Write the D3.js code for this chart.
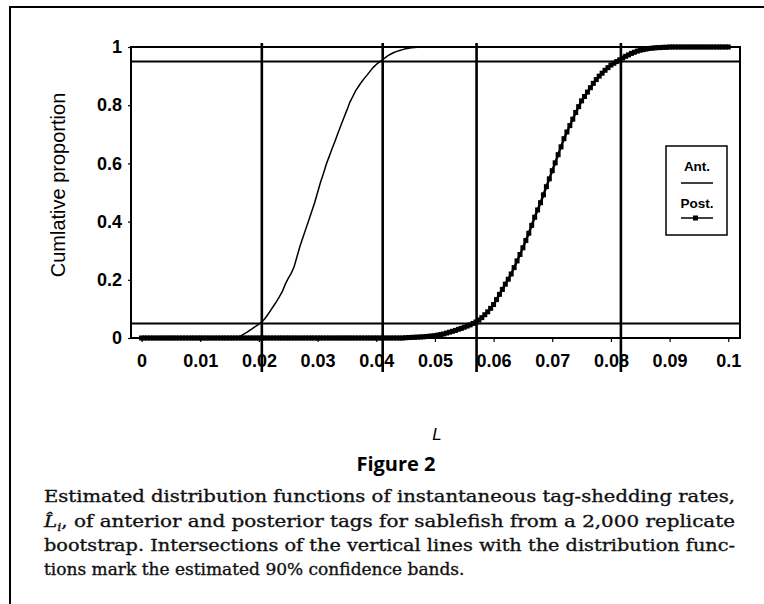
<!DOCTYPE html>
<html><head><meta charset="utf-8">
<script src="https://cdn.jsdelivr.net/npm/d3@7"></script>
<style>body{margin:0;background:#fff}svg{display:block}</style>
</head><body><svg id="c" width="764" height="604"></svg>
<script>
// L grid (categories) at which the bootstrap CDFs were tabulated
const lValues = [
0,0.0005,0.001,0.0015,0.002,0.0025,0.003,0.0035,0.004,0.0045,
0.005,0.0055,0.006,0.0065,0.007,0.0075,0.008,0.0085,0.009,0.0095,
0.01,0.0105,0.011,0.0115,0.012,0.0125,0.013,0.0135,0.014,0.0145,
0.015,0.0155,0.016,0.0165,0.017,0.0175,0.018,0.0185,0.019,0.0195,
0.02,0.0205,0.021,0.0215,0.022,0.0225,0.023,0.0235,0.024,0.0245,
0.025,0.0255,0.026,0.0265,0.027,0.0275,0.028,0.0285,0.029,0.0295,
0.03,0.0305,0.031,0.0315,0.032,0.0325,0.033,0.0335,0.034,0.0345,
0.035,0.0355,0.036,0.0365,0.037,0.0375,0.038,0.0385,0.039,0.0395,
0.04,0.0405,0.041,0.0415,0.042,0.0425,0.043,0.0435,0.044,0.0445,
0.045,0.0455,0.046,0.0465,0.047,0.0475,0.048,0.0485,0.049,0.0495,
0.05,0.0505,0.051,0.0515,0.052,0.0525,0.053,0.0535,0.054,0.0545,
0.055,0.0555,0.056,0.0565,0.057,0.0575,0.058,0.0585,0.059,0.0595,
0.06,0.0605,0.061,0.0615,0.062,0.0625,0.063,0.0635,0.064,0.0645,
0.065,0.0655,0.066,0.0665,0.067,0.0675,0.068,0.0685,0.069,0.0695,
0.07,0.0705,0.071,0.0715,0.072,0.0725,0.073,0.0735,0.074,0.0745,
0.075,0.0755,0.076,0.0765,0.077,0.0775,0.078,0.0785,0.079,0.0795,
0.08,0.0805,0.081,0.0815,0.082,0.0825,0.083,0.0835,0.084,0.0845,
0.085,0.0855,0.086,0.0865,0.087,0.0875,0.088,0.0885,0.089,0.0895,
0.09,0.0905,0.091,0.0915,0.092,0.0925,0.093,0.0935,0.094,0.0945,
0.095,0.0955,0.096,0.0965,0.097,0.0975,0.098,0.0985,0.099,0.0995,
0.1];

// Anterior tags: cumulative proportion
const antValues = [
0,0,0,0,0,0,0,0,0,0,
0,0,0,0,0,0,0,0,0,0,
0,0,0,0,0,0,0,0,0,0,
0,0,0,0.003,0.008,0.014,0.02,0.027,0.034,0.041,
0.048,0.055,0.066,0.08,0.095,0.11,0.125,0.142,0.16,0.185,
0.205,0.222,0.245,0.28,0.315,0.345,0.375,0.405,0.435,0.465,
0.5,0.535,0.565,0.598,0.625,0.652,0.678,0.705,0.732,0.758,
0.783,0.81,0.83,0.85,0.865,0.88,0.893,0.905,0.918,0.93,
0.94,0.948,0.955,0.963,0.97,0.976,0.981,0.985,0.988,0.991,
0.994,0.996,0.997,0.998,0.999,1,1,1,1,1,
1,1,1,1,1,1,1,1,1,1,
1,1,1,1,1,1,1,1,1,1,
1,1,1,1,1,1,1,1,1,1,
1,1,1,1,1,1,1,1,1,1,
1,1,1,1,1,1,1,1,1,1,
1,1,1,1,1,1,1,1,1,1,
1,1,1,1,1,1,1,1,1,1,
1,1,1,1,1,1,1,1,1,1,
1,1,1,1,1,1,1,1,1,1,
1,1,1,1,1,1,1,1,1,1,
1];

// Posterior tags: cumulative proportion
const postValues = [
0,0,0,0,0,0,0,0,0,0,
0,0,0,0,0,0,0,0,0,0,
0,0,0,0,0,0,0,0,0,0,
0,0,0,0,0,0,0,0,0,0,
0,0,0,0,0,0,0,0,0,0,
0,0,0,0,0,0,0,0,0,0,
0,0,0,0,0,0,0,0,0,0,
0,0,0,0,0,0,0,0,0,0,
0,0,0,0,0,0,0,0,0,0,
0.001,0.0015,0.002,0.0025,0.003,0.0035,0.004,0.005,0.006,0.007,
0.008,0.01,0.012,0.014,0.017,0.02,0.023,0.026,0.03,0.033,
0.037,0.041,0.045,0.05,0.055,0.062,0.07,0.08,0.09,0.102,
0.115,0.132,0.15,0.167,0.185,0.202,0.22,0.242,0.265,0.287,
0.31,0.335,0.36,0.387,0.415,0.44,0.465,0.492,0.52,0.547,
0.575,0.602,0.63,0.657,0.685,0.708,0.73,0.752,0.775,0.795,
0.815,0.83,0.845,0.86,0.875,0.888,0.9,0.91,0.92,0.929,
0.938,0.944,0.95,0.956,0.962,0.968,0.973,0.978,0.982,0.986,
0.989,0.991,0.993,0.995,0.996,0.997,0.998,0.998,0.999,0.999,
1,1,1,1,1,1,1,1,1,1,
1,1,1,1,1,1,1,1,1,1,
1];

const seriesNames = ["Ant.", "Post."];
const xTickValues = [0,0.01,0.02,0.03,0.04,0.05,0.06,0.07,0.08,0.09,0.1];
const xTickLabels = ["0","0.01","0.02","0.03","0.04","0.05","0.06","0.07","0.08","0.09","0.1"];
const yTickValues = [0,0.2,0.4,0.6,0.8,1];
const yTickLabels = ["0","0.2","0.4","0.6","0.8","1"];
const ciVertical = [0.0205, 0.0411, 0.0571, 0.0817];   // 90% band limits (Ant. low/high, Post. low/high)
const ciHorizontal = [0.05, 0.95];
const yTitle = "Cumlative proportion";
const xTitle = "L";
const figTitle = "Figure 2";
const captionLines = [
  "Estimated distribution functions of instantaneous tag-shedding rates,",
  ", of anterior and posterior tags for sablefish from a 2,000 replicate",
  "bootstrap. Intersections of the vertical lines with the distribution func-",
  "tions mark the estimated 90% confidence bands."
];

const svg = d3.select("#c");
const sans = "Liberation Sans, Arial, Helvetica, sans-serif";
const serif = "DejaVu Serif, serif";

// outer frame (open at right/bottom edge of the crop)
svg.append("rect").attr("x", 10).attr("y", 7).attr("width", 800).attr("height", 700)
  .attr("fill", "none").attr("stroke", "#000").attr("stroke-width", 2);

const L = 131, R = 740, T = 47, B = 338;
const x = d3.scaleLinear().domain([-0.0018, 0.102]).range([L, R]);
const y = d3.scaleLinear().domain([0, 1]).range([B, T]);

// axes
const xAxis = d3.axisBottom(x).tickValues(xTickValues)
  .tickFormat((d, i) => xTickLabels[i]).tickSize(4).tickSizeOuter(0);
const gx = svg.append("g").attr("transform", `translate(0,${B})`).call(xAxis);
gx.select(".domain").remove();
gx.selectAll("line").attr("stroke", "#000").attr("stroke-width", 1.2);
gx.selectAll("text").attr("font-family", sans).attr("font-size", 18).attr("font-weight", "bold")
  .attr("fill", "#000").attr("y", 16).attr("dy", "0.71em");

const yAxis = d3.axisLeft(y).tickValues(yTickValues)
  .tickFormat((d, i) => yTickLabels[i]).tickSize(3).tickSizeOuter(0);
const gy = svg.append("g").attr("transform", `translate(${L},0)`).call(yAxis);
gy.select(".domain").remove();
gy.selectAll("line").attr("stroke", "#000").attr("stroke-width", 1.2);
gy.selectAll("text").attr("font-family", sans).attr("font-size", 18).attr("font-weight", "bold")
  .attr("fill", "#000").attr("x", -9);

// plot frame
svg.append("rect").attr("x", L).attr("y", T).attr("width", R - L).attr("height", B - T)
  .attr("fill", "none").attr("stroke", "#000").attr("stroke-width", 2);

// confidence lines
svg.selectAll(".hci").data(ciHorizontal).join("line")
  .attr("x1", L).attr("x2", R).attr("y1", d => y(d)).attr("y2", d => y(d))
  .attr("stroke", "#000").attr("stroke-width", 2);
svg.selectAll(".vci").data(ciVertical).join("line")
  .attr("x1", d => x(d)).attr("x2", d => x(d)).attr("y1", T - 4).attr("y2", B + 34)
  .attr("stroke", "#000").attr("stroke-width", 2.6);

// series
const line = d3.line().x(d => x(d[0])).y(d => y(d[1]));
const antData = lValues.map((l, i) => [l, antValues[i]]);
const postData = lValues.map((l, i) => [l, postValues[i]]);

svg.append("path").datum(antData).attr("d", line).attr("fill", "none")
  .attr("stroke", "#000").attr("stroke-width", 1.5);
svg.append("path").datum(postData).attr("d", line).attr("fill", "none")
  .attr("stroke", "#000").attr("stroke-width", 2.5);
svg.append("g").selectAll("rect").data(postData).join("rect")
  .attr("x", d => x(d[0]) - 2.5).attr("y", d => y(d[1]) - 2.5)
  .attr("width", 5).attr("height", 5).attr("fill", "#000");

// axis titles
svg.append("text").attr("transform", "translate(65,185) rotate(-90)")
  .attr("text-anchor", "middle").attr("font-family", sans).attr("font-size", 20)
  .text(yTitle);
svg.append("text").attr("x", 437).attr("y", 440).attr("text-anchor", "middle")
  .attr("font-family", sans).attr("font-style", "italic").attr("font-size", 17).text(xTitle);

// legend
const lg = svg.append("g");
lg.append("rect").attr("x", 666).attr("y", 146).attr("width", 61).attr("height", 89)
  .attr("fill", "#fff").attr("stroke", "#000").attr("stroke-width", 1.5);
lg.append("text").attr("x", 697).attr("y", 171).attr("text-anchor", "middle")
  .attr("font-family", sans).attr("font-weight", "bold").attr("font-size", 13.5).text(seriesNames[0]);
lg.append("line").attr("x1", 681).attr("x2", 713).attr("y1", 183).attr("y2", 183)
  .attr("stroke", "#000").attr("stroke-width", 1.5);
lg.append("text").attr("x", 697).attr("y", 208).attr("text-anchor", "middle")
  .attr("font-family", sans).attr("font-weight", "bold").attr("font-size", 13.5).text(seriesNames[1]);
lg.append("line").attr("x1", 681).attr("x2", 713).attr("y1", 218).attr("y2", 218)
  .attr("stroke", "#000").attr("stroke-width", 1.5);
lg.append("rect").attr("x", 693).attr("y", 215.5).attr("width", 5).attr("height", 5).attr("fill", "#000");

// figure title and caption
svg.append("text").attr("x", 396).attr("y", 471).attr("text-anchor", "middle")
  .attr("font-family", "Open Sans, sans-serif").attr("font-weight", "bold").attr("font-size", 20)
  .text(figTitle);

const capX = 44, capW = 691, capY = [502, 527, 551, 575];
captionLines.forEach((t, i) => {
  const tx = svg.append("text").attr("x", capX).attr("y", capY[i])
    .attr("font-family", serif).attr("font-size", 17).attr("fill", "#111")
    .attr("stroke", "#111").attr("stroke-width", 0.35);
  if (i === 1) {
    tx.append("tspan").attr("font-style", "italic").text("L\u0302");
    tx.append("tspan").attr("font-style", "italic").attr("font-size", 11).attr("dy", 4).text("i");
    tx.append("tspan").attr("dy", -4).text(t);
  } else {
    tx.text(t);
  }
  if (i < 3) tx.attr("textLength", capW).attr("lengthAdjust", "spacingAndGlyphs");
});
</script>
</body></html>
